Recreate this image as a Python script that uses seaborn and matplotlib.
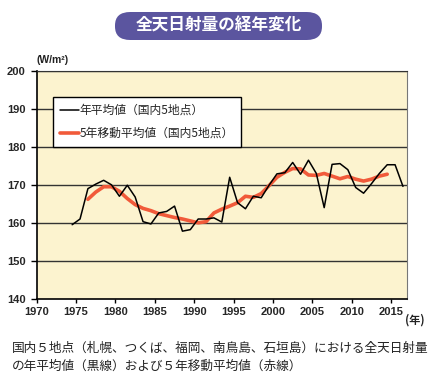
import numpy as np
import pandas as pd
import matplotlib
matplotlib.use('Agg')
import matplotlib.pyplot as plt
from matplotlib.patches import FancyBboxPatch
import seaborn as sns

# yearly mean of 5 stations
years = list(range(1974, 2017))
annual = [159.5, 161.0, 169.0, 170.2, 171.2, 170.0, 167.0, 169.9, 166.8, 160.3,
          159.7, 162.6, 163.0, 164.4, 157.8, 158.2, 161.0, 161.0, 161.3, 160.2,
          172.0, 165.3, 163.7, 167.0, 166.6, 169.9, 172.9, 173.2, 175.9, 172.8,
          176.5, 173.0, 164.0, 175.4, 175.6, 174.0, 169.3, 167.8, 170.3, 173.0,
          175.3, 175.3, 169.6]

# 5-year moving average
ma_years = list(range(1976, 2015))
moving = [166.2, 168.1, 169.5, 169.5, 168.3, 166.4, 164.8, 163.8, 163.2, 162.4,
          161.9, 161.4, 161.0, 160.5, 160.0, 160.3, 162.6, 163.6, 164.4, 165.3,
          167.0, 166.7, 167.7, 169.8, 172.0, 173.3, 174.3, 174.2, 172.6, 172.5,
          173.0, 172.3, 171.6, 172.2, 171.5, 171.0, 171.5, 172.3, 172.8]

xticks = list(range(1970, 2020, 5))
yticks = list(range(140, 210, 10))

label_a = '年平均値（国内5地点）'
label_b = '5年移動平均値（国内5地点）'

df_a = pd.DataFrame({'year': years, 'value': annual})
df_b = pd.DataFrame({'year': ma_years, 'value': moving})
# values are plotted at mid-year
df_a['x'] = df_a['year'] + 0.5
df_b['x'] = df_b['year'] + 0.5

sns.set_style('white')
plt.rcParams['font.family'] = ['Noto Sans CJK JP', 'DejaVu Sans']

fig = plt.figure(figsize=(4.35, 3.84), dpi=100)
ax = fig.add_axes([0.0844, 0.2221, 0.851, 0.593])
ax.set_facecolor('#fcf3cf')

sns.lineplot(data=df_b, x='x', y='value', color='#f15a3a', lw=2.6, ax=ax,
             label=label_b, zorder=3)
sns.lineplot(data=df_a, x='x', y='value', color='black', lw=1.1, ax=ax,
             label=label_a, zorder=4)

ax.set_xlim(1970, 2017)
ax.set_ylim(140, 200)
ax.set_xticks(xticks)
ax.set_yticks(yticks)
ax.set_xlabel('')
ax.set_ylabel('')
for y in yticks[1:]:
    ax.axhline(y, color='#333333', lw=1.0, zorder=1)

num_family = ['DejaVu Sans Condensed', 'Liberation Sans Narrow', 'Liberation Sans']
tick_font = dict(family=num_family, weight='bold', size=8)
ax.set_xticklabels([str(t) for t in xticks], **tick_font)
ax.set_yticklabels([str(t) for t in yticks], **tick_font)
ax.tick_params(axis='x', direction='out', length=3, width=1, color='black', pad=3, bottom=True)
ax.tick_params(axis='y', direction='out', length=4, width=1, color='black', pad=4, left=True)

for side in ['left', 'bottom']:
    ax.spines[side].set_color('black')
    ax.spines[side].set_linewidth(1.2)
ax.spines['right'].set_color('#777777')
ax.spines['top'].set_color('#333333')

handles, labels = ax.get_legend_handles_labels()
leg = ax.legend(handles[::-1], labels[::-1], loc='upper left',
                bbox_to_anchor=(0.043, 0.887), borderaxespad=0, frameon=True,
                fancybox=False, edgecolor='black', framealpha=1,
                handlelength=1.6, handletextpad=0.1, labelspacing=0.85,
                borderpad=0.6,
                prop={'family': ['Noto Sans CJK JP', 'DejaVu Sans'], 'size': 8.5})
leg.get_frame().set_linewidth(1.0)
leg.set_zorder(5)

ax.text(0.0, 1.035, '(W/m²)', transform=ax.transAxes, fontsize=7.5,
        weight='bold', color='#222222', family=num_family)
fig.text(0.93, 0.158, '(年)', fontsize=8, weight='bold', color='#222222',
         family=['Noto Sans CJK JP', 'DejaVu Sans'])

# title banner
box = FancyBboxPatch((115 / 435, 1 - 40 / 384), 207 / 435, 28 / 384,
                     boxstyle='round,pad=0,rounding_size=0.035',
                     transform=fig.transFigure, facecolor='#5b559f',
                     edgecolor='none')
fig.patches.append(box)
fig.text(218.5 / 435, 1 - 26 / 384, '全天日射量の経年変化', ha='center', va='center',
         color='white', fontsize=12, weight='bold')

fig.text(12 / 435, 1 - 348 / 384,
         '国内５地点（札幌、つくば、福岡、南鳥島、石垣島）における全天日射量',
         fontsize=9.1, va='center', color='#222222')
fig.text(12 / 435, 1 - 366 / 384,
         'の年平均値（黒線）および５年移動平均値（赤線）',
         fontsize=9.1, va='center', color='#222222')

fig.savefig('out.png', dpi=100)
